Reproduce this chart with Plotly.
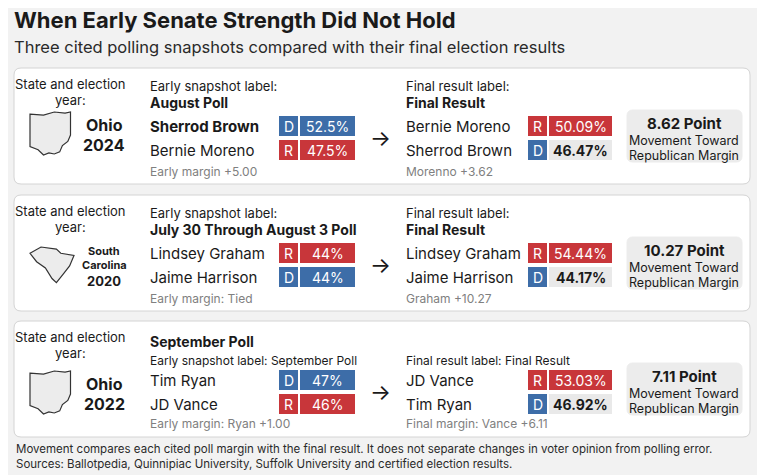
import plotly.graph_objects as go

# ---- data ----
states = ["Ohio", "South<br>Carolina", "Ohio"]
years = ["2024", "2020", "2022"]
early_labels = ["August Poll", "July 30 Through August 3 Poll", "September Poll"]
early_cands = [["Sherrod Brown", "Bernie Moreno"], ["Lindsey Graham", "Jaime Harrison"], ["Tim Ryan", "JD Vance"]]
early_party = [["D", "R"], ["R", "D"], ["D", "R"]]
early_vals = [["52.5%", "47.5%"], ["44%", "44%"], ["47%", "46%"]]
early_notes = ["Early margin +5.00", "Early margin: Tied", "Early margin: Ryan +1.00"]
final_cands = [["Bernie Moreno", "Sherrod Brown"], ["Lindsey Graham", "Jaime Harrison"], ["JD Vance", "Tim Ryan"]]
final_party = [["R", "D"], ["R", "D"], ["R", "D"]]
final_vals = [["50.09%", "46.47%"], ["54.44%", "44.17%"], ["53.03%", "46.92%"]]
final_notes = ["Morenno +3.62", "Graham +10.27", "Final margin: Vance +6.11"]
movement = ["8.62 Point", "10.27 Point", "7.11 Point"]

BLUE = "#3d6da8"
RED = "#c8363a"
GRAY = "#e9e9e9"
INK = "#1a1a1a"
FONT = "Inter"
OFF = 8  # page body margin

OHIO = [(0, 2), (10, 3), (18, 0), (26, 1), (30, 0), (30, 22), (28, 28), (24, 32), (22, 38), (18, 40), (14, 39), (10, 41), (6, 36), (0, 33)]
SC = [(0, 6), (10, 0), (24, 2), (28, 6), (40, 8), (36, 18), (30, 26), (24, 34), (20, 30), (14, 20), (6, 14)]

fig = go.Figure()
fig.add_trace(go.Scatter(x=[20], y=[20], mode="markers", marker=dict(opacity=0), hoverinfo="skip"))
shapes, anns = [], []


def txt(x, y, s, size=13, bold=False, color=INK, xa="left"):
    if bold:
        s = "<b>" + s + "</b>"
    anns.append(dict(x=x, y=y, text=s, showarrow=False, xanchor=xa, yanchor="middle",
                     font=dict(family=FONT, size=size, color=color)))


def rrect(x0, y0, x1, y1, r, fill, line=None):
    p = (f"M{x0+r},{y0} L{x1-r},{y0} Q{x1},{y0} {x1},{y0+r} L{x1},{y1-r} Q{x1},{y1} {x1-r},{y1} "
         f"L{x0+r},{y1} Q{x0},{y1} {x0},{y1-r} L{x0},{y0+r} Q{x0},{y0} {x0+r},{y0} Z")
    shapes.append(dict(type="path", path=p, fillcolor=fill, layer="below",
                       line=dict(color=line or fill, width=1)))


def pbox(x, y, party, val, colored, wval):
    c = BLUE if party == "D" else RED
    shapes.append(dict(type="rect", x0=x, x1=x + 19, y0=y - 10, y1=y + 10, fillcolor=c, line=dict(width=0)))
    shapes.append(dict(type="rect", x0=x + 21, x1=x + 21 + wval, y0=y - 10, y1=y + 10,
                       fillcolor=c if colored else GRAY, line=dict(width=0)))
    txt(x + 9.5, y, party, 14, False, "white", "center")
    txt(x + 21 + wval / 2, y, val, 14, not colored, "white" if colored else INK, "center")


def outline(pts, ox, oy, sx, sy):
    p = "M" + " L".join(f"{ox+a*sx},{oy+b*sy}" for a, b in pts) + " Z"
    shapes.append(dict(type="path", path=p, fillcolor="#ececec", line=dict(color="#333", width=1.2)))


tops = [68, 195, 321]
for i, t in enumerate(tops):
    rrect(14, t, 750, t + 116, 7, "white", "#d4d4d4")
    txt(70, t + 16, "State and election", 13, xa="center")
    txt(70, t + 32, "year:", 13, xa="center")
    if i == 1:
        outline(SC, 30, t + 52, 1.1, 1.05)
        txt(104, t + 56, "South", 11, True, xa="center")
        txt(104, t + 70, "Carolina", 11, True, xa="center")
        txt(104, t + 86, years[i], 13, True, xa="center")
    else:
        outline(OHIO, 30, t + 44 if i == 0 else t + 50, 1.35, 1.05)
        sy = t + 57 if i == 0 else t + 63
        txt(104, sy, states[i], 16, True, xa="center")
        txt(104, sy + 20, years[i], 16, True, xa="center")
    if i < 2:
        txt(148, t + 18, "Early snapshot label:", 13)
        txt(148, t + 34, early_labels[i], 14, True)
        txt(404, t + 18, "Final result label:", 13)
        txt(404, t + 34, "Final Result", 14, True)
        cy = [t + 58, t + 82]
        ny = t + 103
    else:
        txt(148, t + 20, early_labels[i], 14, True)
        txt(148, t + 39, "Early snapshot label: " + early_labels[i], 12)
        txt(404, t + 39, "Final result label: Final Result", 12)
        cy = [t + 59, t + 83]
        ny = t + 102
    my = t + 68
    for k in range(2):
        txt(148, cy[k], early_cands[i][k], 15, i == 0 and k == 0)
        pbox(279, cy[k], early_party[i][k], early_vals[i][k], True, 55)
        txt(404, cy[k], final_cands[i][k], 15)
        pbox(528, cy[k], final_party[i][k], final_vals[i][k], k == 0, 63)
    txt(148, ny, early_notes[i], 12, color="#808080")
    txt(404, ny, final_notes[i], 12, color="#808080")
    txt(380, (cy[0] + cy[1]) / 2, "→", 22, xa="center")
    rrect(627, my - 26, 742, my + 26, 6, "#ececec")
    txt(684, my - 13, movement[i], 15, True, xa="center")
    txt(684, my + 4, "Movement Toward", 12.5, xa="center")
    txt(684, my + 19, "Republican Margin", 12.5, xa="center")

txt(12, 20, "When Early Senate Strength Did Not Hold", 22, True)
txt(12, 47, "Three cited polling snapshots compared with their final election results", 16.5, color="#2a2a2a")
txt(14, 449, "Movement compares each cited poll margin with the final result. It does not separate changes in voter opinion from polling error.", 11.5, color="#2a2a2a")
txt(14, 464, "Sources: Ballotpedia, Quinnipiac University, Suffolk University and certified election results.", 11.5, color="#2a2a2a")

fig.update_layout(
    width=765, height=475, margin=dict(l=0, r=0, t=0, b=0),
    paper_bgcolor="#f2f2f2", plot_bgcolor="#f2f2f2", showlegend=False,
    xaxis=dict(range=[OFF, 765 + OFF], visible=False, fixedrange=True),
    yaxis=dict(range=[475 + OFF, OFF], visible=False, fixedrange=True),
    shapes=shapes, annotations=anns,
)
fig.write_html("out.html", config={"displayModeBar": False})
